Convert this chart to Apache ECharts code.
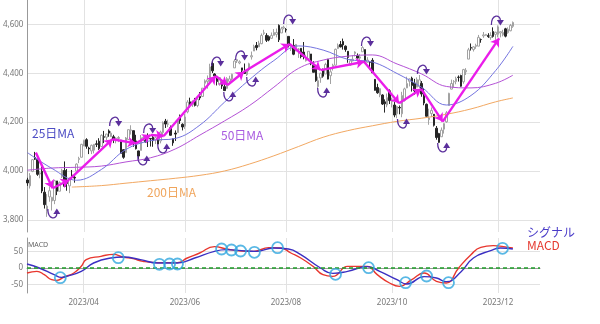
<!DOCTYPE html>
<html>
<head>
<meta charset="utf-8">
<script src="https://cdn.jsdelivr.net/npm/echarts@6/dist/echarts.min.js"></script>
<style>
  html, body { margin: 0; padding: 0; background: #fff; }
  #chart { width: 600px; height: 324px; }
</style>
</head>
<body>
<div id="chart"></div>
<script>
// ---- trading calendar (NYSE, 2023-03-01 .. 2023-12-27) ----
const holidays = ['2023-04-07', '2023-05-29', '2023-06-19', '2023-07-04', '2023-09-04', '2023-11-23', '2023-12-25'];
const dates = [];
for (let d = new Date(Date.UTC(2023, 2, 1)); d <= new Date(Date.UTC(2023, 11, 27)); d.setUTCDate(d.getUTCDate() + 1)) {
  const wd = d.getUTCDay();
  const s = d.toISOString().slice(0, 10);
  if (wd === 0 || wd === 6 || holidays.includes(s)) continue;
  dates.push(s);
}
const labelMonths = ['04', '06', '08', '10', '12'];

// ---- daily candles: [open, close, low, high] ----
const ohlcMar = [
  [3963,3951,3939,3972],[3939,3981,3928,3991],[3998,4046,3995,4048],[4055,4048,4045,4078],[4048,3986,3980,4050],
  [3988,3992,3970,4000],[3999,3918,3909,4018],[3913,3862,3846,3934],[3835,3856,3812,3905],[3894,3919,3874,3937],
  [3877,3892,3838,3894],[3879,3960,3864,3964],[3959,3917,3901,3959],[3917,3952,3917,3957],[3976,4003,3971,4009],
  [4002,3937,3936,4039],[3959,3949,3919,4008],[3939,3971,3909,3973],[3983,3978,3970,4004],[3974,3971,3952,3979],
  [4000,4028,4000,4031],[4047,4051,4032,4058],[4056,4109,4056,4111]
];
const ohlcApr = [
  [4102,4125,4102,4128],[4128,4101,4091,4134],[4094,4090,4069,4099],[4082,4105,4069,4108],[4085,4109,4072,4110],
  [4111,4109,4098,4125],[4122,4092,4086,4134],[4100,4146,4100,4150],[4140,4138,4114,4164],[4138,4151,4126,4152],
  [4164,4155,4140,4170],[4140,4155,4139,4163],[4140,4130,4114,4148],[4133,4134,4113,4138],[4133,4137,4118,4143],
  [4126,4072,4071,4127],[4087,4056,4050,4089],[4075,4135,4075,4139],[4129,4169,4127,4170]
];
const ohlcMay = [
  [4166,4168,4149,4187],[4165,4120,4099,4165],[4123,4091,4088,4148],[4082,4061,4048,4083],[4084,4136,4084,4147],
  [4136,4138,4123,4143],[4125,4119,4116,4131],[4144,4138,4098,4154],[4133,4131,4100,4133],[4138,4124,4099,4143],
  [4127,4136,4110,4141],[4128,4110,4110,4136],[4123,4159,4113,4165],[4157,4198,4147,4203],[4204,4192,4176,4213],
  [4191,4193,4180,4210],[4177,4146,4145,4186],[4132,4115,4103,4133],[4155,4151,4123,4166],[4157,4205,4156,4213],
  [4227,4206,4193,4231],[4191,4180,4166,4195]
];
const ohlcJun = [
  [4183,4221,4172,4233],[4242,4282,4236,4290],[4283,4274,4260,4300],[4271,4284,4262,4289],[4285,4268,4264,4299],
  [4268,4294,4261,4298],[4305,4299,4290,4323],[4305,4339,4303,4339],[4359,4369,4343,4375],[4366,4373,4337,4391],
  [4366,4426,4355,4439],[4440,4410,4401,4449],[4397,4389,4372,4400],[4381,4366,4350,4387],[4355,4382,4349,4383],
  [4355,4348,4336,4366],[4345,4329,4328,4363],[4338,4378,4336,4384],[4367,4377,4360,4390],[4377,4396,4372,4398],
  [4422,4450,4422,4458]
];
const ohlcJul = [
  [4450,4456,4442,4456],[4442,4447,4437,4453],[4422,4412,4385,4422],[4405,4399,4397,4440],[4394,4410,4389,4412],
  [4415,4439,4408,4443],[4467,4472,4456,4489],[4491,4510,4491,4517],[4514,4505,4494,4528],[4508,4523,4508,4533],
  [4521,4555,4519,4563],[4563,4566,4557,4578],[4555,4535,4528,4564],[4550,4536,4531,4555],[4543,4555,4541,4567],
  [4555,4567,4555,4581],[4559,4567,4547,4583],[4596,4537,4528,4600],[4565,4582,4565,4590],[4585,4589,4580,4595]
];
const ohlcAug = [
  [4579,4577,4567,4585],[4551,4513,4506,4551],[4500,4502,4491,4519],[4514,4478,4474,4540],[4491,4518,4491,4520],
  [4498,4499,4463,4503],[4502,4468,4461,4503],[4487,4469,4457,4528],[4451,4464,4448,4476],[4459,4490,4454,4490],
  [4479,4438,4433,4479],[4433,4404,4404,4449],[4417,4370,4365,4421],[4345,4370,4335,4386],[4381,4400,4361,4402],
  [4416,4388,4382,4419],[4397,4436,4397,4443],[4456,4376,4375,4459],[4390,4406,4356,4418],[4426,4433,4411,4439],
  [4433,4498,4432,4501],[4501,4515,4500,4522],[4518,4508,4506,4532]
];
const ohlcSep = [
  [4530,4516,4497,4542],[4511,4497,4488,4514],[4490,4465,4443,4491],[4434,4451,4431,4457],[4451,4457,4449,4474],
  [4481,4487,4469,4490],[4473,4462,4461,4481],[4462,4467,4449,4479],[4488,4505,4488,4511],[4497,4450,4447,4497],
  [4445,4454,4443,4466],[4444,4444,4416,4449],[4453,4402,4401,4462],[4375,4330,4329,4376],[4342,4320,4316,4357],
  [4311,4337,4302,4338],[4311,4274,4270,4314],[4283,4275,4239,4293],[4270,4300,4261,4317],[4328,4288,4274,4334]
];
const ohlcOct = [
  [4284,4288,4260,4300],[4270,4229,4220,4282],[4234,4264,4216,4267],[4260,4258,4232,4268],[4234,4309,4220,4324],
  [4289,4336,4284,4341],[4340,4358,4339,4386],[4367,4377,4346,4379],[4380,4350,4325,4386],[4360,4328,4312,4377],
  [4343,4374,4343,4383],[4345,4373,4339,4393],[4358,4315,4304,4368],[4322,4278,4269,4340],[4273,4224,4223,4276],
  [4210,4217,4189,4255],[4235,4248,4221,4260],[4232,4187,4182,4233],[4175,4137,4128,4184],[4153,4117,4115,4156],
  [4140,4167,4140,4178],[4171,4194,4153,4195]
];
const ohlcNov = [
  [4201,4238,4197,4245],[4268,4318,4268,4320],[4335,4358,4334,4374],[4365,4366,4343,4372],[4366,4378,4355,4386],
  [4384,4383,4366,4391],[4391,4347,4345,4394],[4365,4415,4357,4418],[4406,4412,4393,4421],[4458,4496,4458,4504],
  [4505,4503,4493,4522],[4497,4508,4489,4511],[4510,4514,4500,4521],[4511,4547,4511,4557],[4538,4538,4525,4542],
  [4553,4557,4545,4569],[4555,4559,4554,4561],[4555,4550,4545,4564],[4546,4555,4537,4568],[4571,4551,4546,4588],
  [4559,4568,4537,4570]
];
const ohlcDec = [
  [4559,4590,4547,4596],[4565,4570,4547,4572],[4557,4567,4551,4578],[4582,4552,4547,4586],[4566,4580,4562,4588],
  [4574,4596,4572,4602],[4592,4608,4586,4612]
];
const candles = [].concat(ohlcMar, ohlcApr, ohlcMay, ohlcJun, ohlcJul, ohlcAug, ohlcSep, ohlcOct, ohlcNov, ohlcDec);

// ---- moving averages, sampled by trading-day index ----
const maIdx  = [0, 10, 20, 30, 40, 50, 60, 70, 80, 90, 100, 110, 120, 130, 140, 150, 160, 170, 180, 190, 197];
const ma25   = [4075, 4010, 3962, 4006, 4088, 4124, 4133, 4188, 4282, 4373, 4452, 4512, 4495, 4457, 4446, 4399, 4342, 4270, 4309, 4411, 4510];
const ma50   = [4003, 4012, 4015, 4020, 4037, 4054, 4090, 4147, 4205, 4267, 4343, 4420, 4454, 4470, 4475, 4438, 4397, 4346, 4340, 4359, 4392];
const ma200Idx = [18, 30, 40, 50, 60, 70, 80, 90, 100, 110, 120, 130, 140, 150, 160, 170, 180, 190, 197];
const ma200    = [3934, 3940, 3950, 3960, 3970, 3982, 4000, 4028, 4062, 4100, 4138, 4165, 4185, 4203, 4216, 4232, 4254, 4283, 4299];

// ---- trend zigzag (swing points) ----
const zigIdx = [3.4, 10.2, 16.9, 34.5, 44, 50, 55.3, 76.4, 81.2, 87.9, 106.4, 119, 136.6, 150.8, 159.8, 168.5, 191.4];
const zigVal = [4075, 3929, 3963, 4130, 4113, 4147, 4143, 4389, 4352, 4406, 4520, 4413, 4447, 4277, 4336, 4202, 4543];

// ---- turning-point hooks: 1 = top, -1 = bottom ----
const hookIdx = [10.3, 35.4, 46.8, 49.2, 54.9, 76.8, 81.7, 86.5, 91, 106, 119.8, 137.6, 152.2, 160.3, 168.5, 190.3];
const hookVal = [3828, 4200, 4045, 4172, 4094, 4446, 4307, 4471, 4368, 4618, 4323, 4528, 4196, 4413, 4098, 4614];
const hookDir = [-1, 1, -1, 1, -1, 1, -1, 1, -1, 1, -1, 1, -1, 1, -1, 1];

// ---- MACD panel ----
const macdIdx = [0,4,7,10,12,15,19,22,24,30,35,39,43,47,53,61,65,70,76,81,87,92,98,103,107,111,116,120,124,130,134,138,142,147,151,156,161,166,170,175,180,184,189,195,197];
const macdVal = [-15,-10,-20,-35,-37,-27,-15,5,25,35,41,33,28,20,16,16,30,45,64,57,51,50,61,60,45,30,5,-20,-25,5,5,5,-20,-45,-55,-35,-15,-40,-45,0,40,62,67,62,60];
const sigIdx  = [0,5,11,14,16,22,27,34,39,46,53,61,68,76,81,87,93,100,106,111,119,124,130,138,143,150,154,161,166,170,176,181,188,192,197];
const sigVal  = [12,0,-20,-28,-25,-10,15,30,33,25,15,15,30,50,55,52,50,60,57,40,0,-16,-10,4,-10,-35,-48,-26,-30,-41,-11,30,52,60,57];
const crossIdx = [13.5, 37, 53.7, 57.8, 61, 78.9, 82.9, 86.6, 92.2, 101.6, 125.1, 138.5, 153.5, 162, 170.9, 192.8];
const crossVal = [-29, 31, 11, 12, 12, 57, 54, 51, 47, 61, -19, 1, -44, -24, -44, 59];

// ---- axis ticks ----
const priceTicks = [3800, 4000, 4200, 4400, 4600];
const macdTicks = [-50, 0, 50];

const monthStarts = dates.map((d, i) =>
  (i > 0 && d.slice(5, 7) !== dates[i - 1].slice(5, 7) && labelMonths.includes(d.slice(5, 7))) ? i : -1
).filter(i => i >= 0);
const isMonthStart = i => monthStarts.includes(i);
const lastIdx = dates.length - 1;

const pairs = (xs, ys) => xs.map((x, i) => [x, ys[i]]);
const zigSegments = zigIdx.slice(1).map((x, i) => ({
  coords: [[zigIdx[i], zigVal[i]], [x, zigVal[i + 1]]]
}));

const GRID_COLOR = '#e2e2e2';
const AXIS_COLOR = '#999';
const LABEL_COLOR = '#777';
const FONT = '"Noto Sans", "Noto Sans CJK JP", sans-serif';
const HOOK_COLOR = '#5b2f9c';

const chart = echarts.init(document.getElementById('chart'), null, { renderer: 'canvas' });

chart.setOption({
  animation: false,
  backgroundColor: '#fff',
  textStyle: { fontFamily: FONT },
  grid: [
    { left: 27, top: 0, width: 513, height: 232 },
    { left: 27, top: 238, width: 513, height: 55 }
  ],
  xAxis: [
    {
      type: 'category', gridIndex: 0, data: dates, boundaryGap: false,
      axisLine: { show: false }, axisTick: { show: false }, axisLabel: { show: false },
      splitLine: { show: true, interval: i => isMonthStart(i), lineStyle: { color: GRID_COLOR, width: 1 } }
    },
    { type: 'value', gridIndex: 0, min: 0, max: lastIdx, show: false },
    {
      type: 'category', gridIndex: 1, data: dates, boundaryGap: false,
      axisLine: { show: true, lineStyle: { color: AXIS_COLOR } }, axisTick: { show: false },
      axisLabel: {
        show: true, interval: i => isMonthStart(i),
        formatter: v => v.slice(0, 7).replace('-', '/'),
        fontSize: 8, color: LABEL_COLOR, margin: 6
      },
      splitLine: { show: true, interval: i => isMonthStart(i), lineStyle: { color: GRID_COLOR, width: 1 } }
    },
    { type: 'value', gridIndex: 1, min: 0, max: lastIdx, show: false }
  ],
  yAxis: [
    {
      type: 'value', gridIndex: 0, min: 3750, max: 4700,
      axisLine: { show: true, lineStyle: { color: AXIS_COLOR } },
      axisTick: { show: false, customValues: priceTicks },
      axisLabel: { customValues: priceTicks, formatter: v => v.toLocaleString('en-US'), fontSize: 8, color: LABEL_COLOR, margin: 4 },
      splitLine: { show: true, lineStyle: { color: GRID_COLOR, width: 1 } }
    },
    {
      type: 'value', gridIndex: 1, min: -75, max: 90,
      axisLine: { show: true, lineStyle: { color: AXIS_COLOR } },
      axisTick: { show: false, customValues: macdTicks },
      axisLabel: { customValues: macdTicks, fontSize: 8, color: LABEL_COLOR, margin: 4 },
      splitLine: { show: true, lineStyle: { color: GRID_COLOR, width: 1 } }
    }
  ],
  series: [
    {
      name: 'price', type: 'candlestick', xAxisIndex: 0, yAxisIndex: 0,
      data: candles, barWidth: 2,
      itemStyle: { color: '#ffffff', color0: '#262626', borderColor: '#a2a2a2', borderColor0: '#262626', borderWidth: 1 },
      z: 2
    },
    {
      name: '200日MA', type: 'line', xAxisIndex: 1, yAxisIndex: 0, data: pairs(ma200Idx, ma200),
      smooth: 0.4, showSymbol: false, lineStyle: { color: '#f2a862', width: 1 }, z: 3
    },
    {
      name: '50日MA', type: 'line', xAxisIndex: 1, yAxisIndex: 0, data: pairs(maIdx, ma50),
      smooth: 0.4, showSymbol: false, lineStyle: { color: '#b452d6', width: 1 }, z: 3
    },
    {
      name: '25日MA', type: 'line', xAxisIndex: 1, yAxisIndex: 0, data: pairs(maIdx, ma25),
      smooth: 0.4, showSymbol: false, lineStyle: { color: '#7474e0', width: 1 }, z: 3
    },
    {
      name: 'trend', type: 'lines', coordinateSystem: 'cartesian2d', xAxisIndex: 1, yAxisIndex: 0,
      data: zigSegments, symbol: ['none', 'arrow'], symbolSize: 8,
      lineStyle: { color: '#ea1cea', width: 2.4, opacity: 1, curveness: 0 }, z: 5
    },
    {
      name: 'turns', type: 'custom', coordinateSystem: 'cartesian2d', xAxisIndex: 1, yAxisIndex: 0,
      data: hookIdx.map((x, i) => [x, hookVal[i], hookDir[i]]),
      encode: { x: 0, y: 1 }, clip: false, z: 6,
      renderItem: (params, api) => {
        const p = api.coord([api.value(0), api.value(1)]);
        const s = api.value(2);
        const cx = p[0], cy = p[1];
        return {
          type: 'group',
          children: [
            {
              type: 'bezierCurve',
              shape: { x1: cx - 5, y1: cy + 4 * s, cpx1: cx - 5, cpy1: cy - 7 * s, cpx2: cx + 4, cpy2: cy - 7 * s, x2: cx + 4, y2: cy - 0.5 * s },
              style: { stroke: HOOK_COLOR, lineWidth: 1.3, fill: null }
            },
            {
              type: 'polygon',
              shape: { points: [[cx + 0.5, cy - 1 * s], [cx + 7.5, cy - 1 * s], [cx + 4, cy + 4.5 * s]] },
              style: { fill: HOOK_COLOR }
            }
          ]
        };
      }
    },
    {
      name: 'MACD', type: 'line', xAxisIndex: 3, yAxisIndex: 1, data: pairs(macdIdx, macdVal),
      smooth: 0.5, showSymbol: false, lineStyle: { color: '#e8362e', width: 1.4 }, z: 3,
      markLine: {
        silent: true, symbol: 'none', label: { show: false },
        lineStyle: { color: '#1f9e2a', type: [4, 3], width: 1.5 },
        data: [{ yAxis: 0 }]
      }
    },
    {
      name: 'シグナル', type: 'line', xAxisIndex: 3, yAxisIndex: 1, data: pairs(sigIdx, sigVal),
      smooth: 0.5, showSymbol: false, lineStyle: { color: '#3b2fc2', width: 1.4 }, z: 4
    },
    {
      name: 'cross', type: 'scatter', xAxisIndex: 3, yAxisIndex: 1, data: pairs(crossIdx, crossVal),
      symbol: 'circle', symbolSize: 11,
      itemStyle: { color: 'rgba(0,0,0,0)', borderColor: '#2fa6de', borderWidth: 1.8 }, z: 6
    }
  ],
  graphic: [
    { type: 'text', left: 32, top: 127, style: { text: '25日MA', fill: '#4c4cc4', font: '12px "Noto Sans CJK JP", sans-serif' } },
    { type: 'text', left: 221, top: 129, style: { text: '50日MA', fill: '#a85ae0', font: '12px "Noto Sans CJK JP", sans-serif' } },
    { type: 'text', left: 147, top: 186, style: { text: '200日MA', fill: '#f0a55c', font: '12px "Noto Sans CJK JP", sans-serif' } },
    { type: 'text', left: 28, top: 241, style: { text: 'MACD', fill: '#666', font: '7px "Noto Sans", sans-serif' } },
    { type: 'text', left: 527, top: 226, style: { text: 'シグナル', fill: '#4a3cc8', font: '12px "Noto Sans CJK JP", sans-serif' } },
    { type: 'text', left: 527, top: 239, style: { text: 'MACD', fill: '#e53a30', font: '12px "Noto Sans CJK JP", sans-serif' } }
  ]
});
</script>
</body>
</html>
